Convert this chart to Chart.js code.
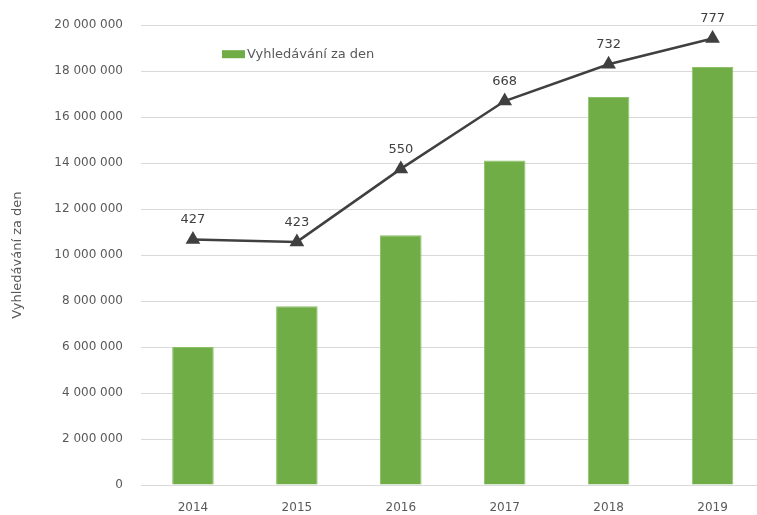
<!DOCTYPE html>
<html lang="cs">
<head>
  <meta charset="UTF-8">
  <title>Vyhledávání za den</title>
  <script src="https://cdn.jsdelivr.net/npm/chart.js"></script>
  <style>
    html, body { margin: 0; padding: 0; overflow: hidden; background: #fff; }
  </style>
</head>
<body>

<!-- canvas a bit wider than the window: the plot is cut off on the right like the original -->
<canvas id="myChart" width="773" height="515"></canvas>

<script>
  const years = ['2014', '2015', '2016', '2017', '2018', '2019'];
  const searchesPerDay = [6000000, 7780000, 10860000, 14120000, 16880000, 18180000];
  const lineValues = [427, 423, 550, 668, 732, 777];
  const seriesName = 'Vyhledávání za den';

  const fontFamily = "'DejaVu Sans', sans-serif";

  function formatSpace(v) {
    return String(v).replace(/\B(?=(\d{3})+(?!\d))/g, ' ');
  }

  // labels above the line points
  const pointLabels = {
    id: 'pointLabels',
    afterDatasetsDraw(chart) {
      const meta = chart.getDatasetMeta(1);
      const ctx = chart.ctx;
      ctx.save();
      ctx.fillStyle = '#404040';
      ctx.font = '13px ' + fontFamily;
      ctx.textAlign = 'center';
      ctx.textBaseline = 'bottom';
      meta.data.forEach((pt, i) => {
        ctx.fillText(lineValues[i], pt.x, pt.y - 13);
      });
      ctx.restore();
    }
  };

  // legend sitting inside the plot area
  const innerLegend = {
    id: 'innerLegend',
    afterDraw(chart) {
      const ctx = chart.ctx;
      const x = chart.chartArea.left + 81;
      const y = chart.chartArea.top + 29;
      ctx.save();
      ctx.fillStyle = '#70AD47';
      ctx.fillRect(x, y - 4, 23, 8);
      ctx.fillStyle = '#595959';
      ctx.font = '13px ' + fontFamily;
      ctx.textAlign = 'left';
      ctx.textBaseline = 'middle';
      ctx.fillText(seriesName, x + 25, y);
      ctx.restore();
    }
  };

  const ctx = document.getElementById('myChart').getContext('2d');

  const myChart = new Chart(ctx, {
    data: {
      labels: years,
      datasets: [{
        type: 'bar',
        label: seriesName,
        data: searchesPerDay,
        backgroundColor: '#70AD47',
        borderColor: '#8cc26a',
        borderWidth: 1,
        barPercentage: 0.8,
        categoryPercentage: 0.5,
        yAxisID: 'y',
        order: 2
      }, {
        type: 'line',
        label: 'index',
        data: lineValues,
        borderColor: '#404040',
        borderWidth: 2.5,
        pointStyle: 'triangle',
        pointRadius: 6,
        pointBackgroundColor: '#404040',
        pointBorderColor: '#404040',
        fill: false,
        tension: 0,
        yAxisID: 'y1',
        order: 1
      }]
    },
    options: {
      responsive: false,
      animation: false,
      layout: { padding: { top: 19, right: 0, bottom: 0, left: 0 } },
      plugins: {
        legend: { display: false },
        tooltip: { enabled: false }
      },
      scales: {
        x: {
          afterFit(scale) { scale.height = 30; },
          grid: { display: false, drawTicks: false },
          border: { display: false },
          ticks: { color: '#595959', font: { family: fontFamily, size: 12 }, padding: 16, maxRotation: 0 }
        },
        y: {
          min: 0,
          max: 20000000,
          afterFit(scale) { scale.width = 141; },
          grid: { color: '#d9d9d9', drawTicks: false },
          border: { display: false },
          ticks: {
            stepSize: 2000000,
            color: '#595959',
            font: { family: fontFamily, size: 12 },
            padding: 18,
            callback: v => formatSpace(v)
          },
          title: {
            display: true,
            text: seriesName,
            color: '#595959',
            font: { family: fontFamily, size: 13 },
            padding: { top: 10, bottom: 0 }
          }
        },
        y1: {
          display: false,
          min: 0,
          max: 800
        }
      }
    },
    plugins: [pointLabels, innerLegend]
  });
</script>

</body>
</html>
